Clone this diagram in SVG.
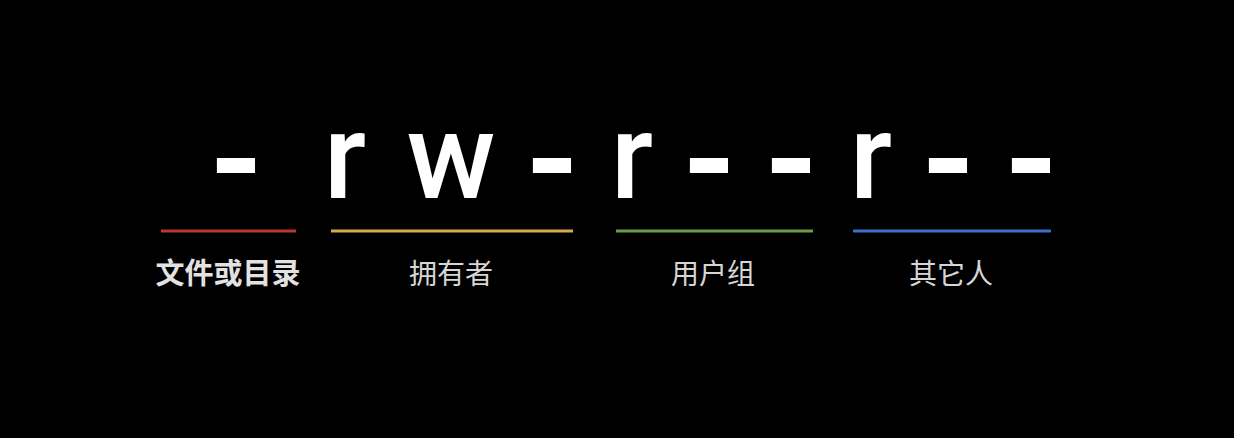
<svg xmlns="http://www.w3.org/2000/svg" width="1234" height="438" viewBox="0 0 1234 438">
<style>
.ch{font-family:Roboto,"Liberation Sans",Arial,sans-serif;font-weight:500;font-size:120px;fill:#ffffff;text-anchor:middle}
.hy{font-family:"Liberation Sans",Arial,sans-serif;font-size:120px;fill:#ffffff;text-anchor:middle}
.lb{font-family:"Noto Sans CJK SC","Noto Sans",sans-serif;font-size:28px;fill:#d6d6d6;text-anchor:middle}
.lbb{font-weight:bold;fill:#e2e2e2;font-size:29px}
.ln{stroke-width:3;fill:none}
</style>
<rect width="1234" height="438" fill="#000000"/>
<g id="type">
<text class="hy" transform="translate(236,216) scale(1.3,1.6)">-</text>
<line class="ln" x1="161" y1="231" x2="296" y2="231" stroke="#b5392c"/>
<text class="lb lbb" x="228" y="284">文件或目录</text>
</g>
<g id="owner">
<text class="ch" x="345" y="198">r</text>
<text class="ch" x="451" y="198">w</text>
<text class="hy" transform="translate(552,216) scale(1.3,1.6)">-</text>
<line class="ln" x1="331" y1="231" x2="573" y2="231" stroke="#d7ab4c"/>
<text class="lb" x="451" y="284">拥有者</text>
</g>
<g id="group">
<text class="ch" x="632" y="198">r</text>
<text class="hy" transform="translate(709,216) scale(1.3,1.6)">-</text>
<text class="hy" transform="translate(791,216) scale(1.3,1.6)">-</text>
<line class="ln" x1="616" y1="231" x2="813" y2="231" stroke="#6a9a47"/>
<text class="lb" x="713" y="284">用户组</text>
</g>
<g id="others">
<text class="ch" x="871" y="198">r</text>
<text class="hy" transform="translate(948,216) scale(1.3,1.6)">-</text>
<text class="hy" transform="translate(1031,216) scale(1.3,1.6)">-</text>
<line class="ln" x1="853" y1="231" x2="1051" y2="231" stroke="#3b6fce"/>
<text class="lb" x="951" y="284">其它人</text>
</g>
</svg>
